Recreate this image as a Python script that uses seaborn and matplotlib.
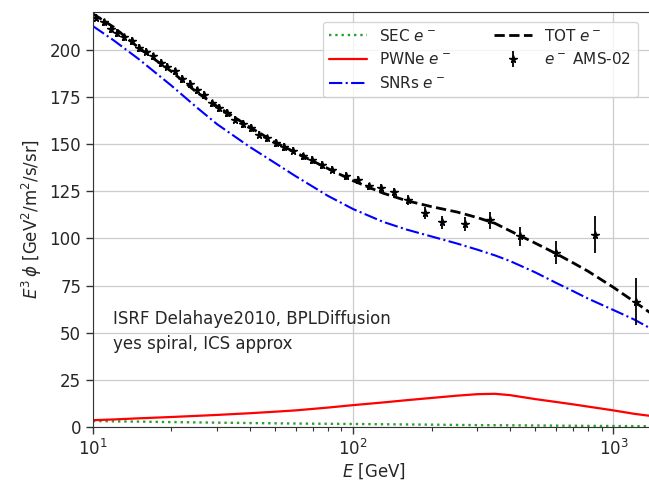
import numpy as np
import pandas as pd
import matplotlib
matplotlib.use("Agg")
import matplotlib.pyplot as plt
import seaborn as sns

# model curves on a common energy grid [GeV]
E_grid = [10, 12, 15, 20, 25, 30, 40, 50, 60, 80, 100, 130, 160, 200, 250,
          300, 350, 400, 500, 600, 700, 800, 1000, 1200, 1420]
sec = [3.2, 3.0, 2.85, 2.6, 2.45, 2.3, 2.1, 1.95, 1.85, 1.7, 1.6, 1.45, 1.35,
       1.25, 1.1, 1.0, 0.95, 0.9, 0.8, 0.72, 0.65, 0.6, 0.52, 0.45, 0.4]
pwne = [3.6, 4.0, 4.6, 5.3, 5.9, 6.4, 7.3, 8.1, 8.8, 10.3, 11.6, 13.0, 14.2,
        15.4, 16.6, 17.4, 17.6, 16.9, 14.8, 13.3, 12.0, 10.8, 8.8, 7.0, 5.7]
snrs = [212.5, 205, 195, 181, 169.5, 160.5, 148.5, 140, 133, 122.5, 115.5,
        108.8, 104.7, 101, 97.3, 94, 91, 88, 82, 76.5, 72, 68, 62, 57, 51.5]
tot = [219, 212, 201, 188.5, 177.5, 170, 159, 151, 145.5, 137, 130.5, 124,
       120, 116.8, 114, 111, 108, 104, 97.5, 92, 87, 82.5, 74, 66.5, 59.5]

# AMS-02 electrons
E_ams = [10.3, 11.0, 11.7, 12.4, 13.2, 14.1, 15.0, 16.0, 17.0, 18.2, 19.3,
         20.6, 22.0, 23.5, 25.0, 26.7, 28.6, 30.5, 32.7, 35.0, 37.6, 40.3,
         43.4, 46.7, 50.3, 54.4, 58.9, 63.9, 69.5, 75.9, 83.1, 93.5, 104,
         115, 128, 143, 162, 188, 220, 268, 334, 437, 600, 850, 1218]
flux_ams = [217, 214.5, 211, 209, 206.5, 204.5, 201, 199, 196.5, 193, 191,
            188.5, 184.5, 182, 178.5, 176, 171.5, 169, 166.5, 163, 160.5, 158.5,
            155, 153, 150.5, 148.5, 146.5, 143.5, 141.5, 139, 136.5, 133, 131,
            127.5, 126.5, 124.5, 120.5, 113.5, 108.5, 107.5, 109.5, 101, 92.5,
            102, 66.5]
err_ams = [2, 2, 2, 2, 2, 2, 2, 2, 2, 2, 2, 2, 2, 2, 2, 2, 2, 2, 2, 2, 2, 2,
           2, 2, 2, 2, 2, 2, 2, 2, 2, 2, 2, 2, 2.2, 2.4, 2.6, 3, 3.3, 3.8,
           4.3, 4.8, 6, 10, 12.5]

sns.set_style("whitegrid", {"axes.edgecolor": "0.2", "xtick.bottom": True,
                            "ytick.left": True, "grid.color": "0.8"})
plt.rcParams['font.family'] = ['DejaVu Sans']
plt.rcParams['mathtext.fontset'] = 'dejavusans'

fig = plt.figure(figsize=(6.49, 4.84), dpi=100)
ax = fig.add_axes([93 / 649, 1 - 427 / 484, (649 - 93) / 649 + 0.01, (427 - 12) / 484])

sns.lineplot(x=E_grid, y=sec, ax=ax, color='tab:green', linestyle=':', lw=1.7, label=r'SEC $e^-$')
sns.lineplot(x=E_grid, y=pwne, ax=ax, color='red', linestyle='-', lw=1.6, label=r'PWNe $e^-$')
sns.lineplot(x=E_grid, y=snrs, ax=ax, color='blue', linestyle='-.', lw=1.5, label=r'SNRs $e^-$')
sns.lineplot(x=E_grid, y=tot, ax=ax, color='k', linestyle='--', lw=2, label=r'TOT $e^-$')
ax.errorbar(E_ams, flux_ams, yerr=err_ams, fmt='*', color='k', ms=5.5,
            elinewidth=1.3, label=r'$e^-$ AMS-02')

ax.set_xscale('log')
ax.set_xlim(10, 1450)
ax.set_ylim(0, 220)
ax.set_yticks(np.arange(0, 201, 25))
ax.tick_params(axis='both', which='major', labelsize=12, length=5, width=1, color='0.2')
ax.tick_params(axis='x', which='minor', length=3, width=0.8, color='0.2', bottom=True)
ax.grid(True, which='major', color='0.8', lw=0.9)
ax.grid(False, which='minor')
ax.set_xlabel(r'$E$ [GeV]', fontsize=12, labelpad=2)
ax.set_ylabel(r'$E^3\,\phi$ [GeV$^2$/m$^2$/s/sr]', fontsize=12, labelpad=4)

ax.text(0.036, 0.23, 'ISRF Delahaye2010, BPLDiffusion\nyes spiral, ICS approx',
        transform=ax.transAxes, fontsize=12, va='center', ha='left',
        linespacing=1.45, color='0.15')

ax.legend(loc='upper right', ncol=2, fontsize=11, frameon=True,
          bbox_to_anchor=(0.982, 0.995), columnspacing=2.8, handlelength=2.5)

fig.savefig('out.png', dpi=100)
